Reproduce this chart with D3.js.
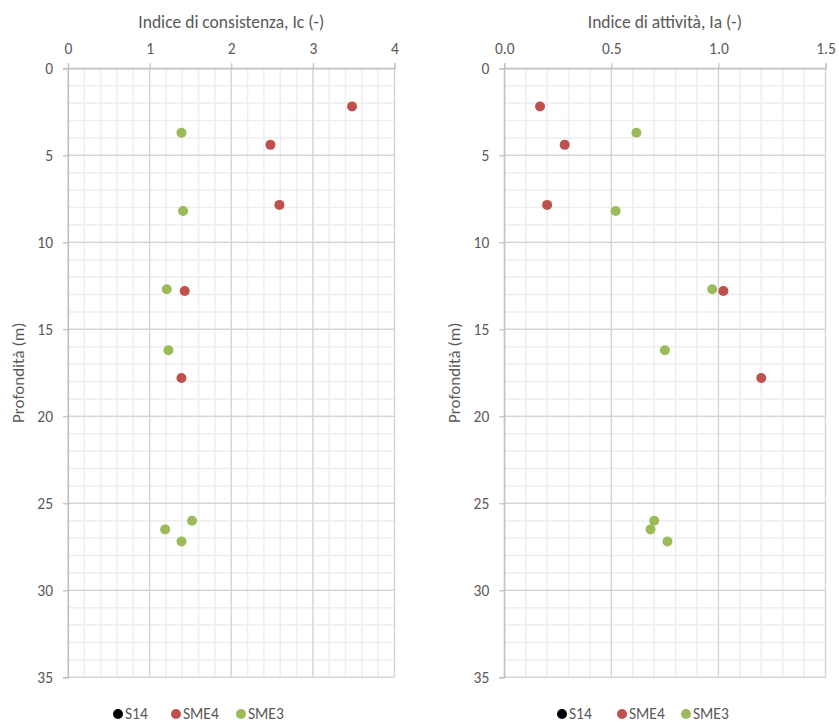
<!DOCTYPE html>
<html>
<head>
<meta charset="utf-8">
<script src="https://cdn.jsdelivr.net/npm/d3@7"></script>
<style>
  html, body { margin: 0; padding: 0; background: #fff; }
  svg { display: block; }
  text { font-family: Carlito, Calibri, Lato, "Open Sans", sans-serif; fill: #595959; }
</style>
</head>
<body>
<svg id="chart" width="839" height="722"></svg>
<script>
// ---- data ----
const seriesNames = ["S14", "SME4", "SME3"];
const seriesColors = ["#000000", "#C0504D", "#9BBB59"];

const depthS14 = [];
const icS14 = [];
const iaS14 = [];

const depthSME4 = [2.2, 4.4, 7.85, 12.8, 17.8];
const icSME4 = [3.48, 2.48, 2.59, 1.43, 1.39];
const iaSME4 = [0.167, 0.282, 0.20, 1.023, 1.20];

const depthSME3 = [3.7, 8.2, 12.7, 16.2, 26.0, 26.5, 27.2];
const icSME3 = [1.39, 1.41, 1.21, 1.23, 1.52, 1.19, 1.39];
const iaSME3 = [0.617, 0.52, 0.971, 0.75, 0.70, 0.683, 0.762];

const depthTicks = [0, 5, 10, 15, 20, 25, 30, 35];
const icTicks = [0, 1, 2, 3, 4];
const iaTicks = [0.0, 0.5, 1.0, 1.5];

const titleIc = "Indice di consistenza, Ic (-)";
const titleIa = "Indice di attività, Ia (-)";
const yTitle = "Profondità (m)";

// ---- drawing ----
const svg = d3.select("#chart");

function panel(cfg) {
  const x = d3.scaleLinear().domain(cfg.xDomain).range([cfg.left, cfg.right]);
  const y = d3.scaleLinear().domain([0, 35]).range([68.3, 677.3]);
  const g = svg.append("g");

  // minor grid
  const xMinor = d3.range(cfg.xDomain[0], cfg.xDomain[1] + 1e-9, cfg.xMinorStep);
  const yMinor = d3.range(0, 35 + 1e-9, 1);
  g.append("g").selectAll("line").data(xMinor).join("line")
    .attr("x1", d => x(d)).attr("x2", d => x(d))
    .attr("y1", y(0)).attr("y2", y(35))
    .attr("stroke", "#EEEEEE").attr("stroke-width", 1.5);
  g.append("g").selectAll("line").data(yMinor).join("line")
    .attr("x1", x(cfg.xDomain[0])).attr("x2", x(cfg.xDomain[1]))
    .attr("y1", d => y(d)).attr("y2", d => y(d))
    .attr("stroke", "#EEEEEE").attr("stroke-width", 1.5);

  // major grid
  g.append("g").selectAll("line").data(cfg.xTicks).join("line")
    .attr("x1", d => x(d)).attr("x2", d => x(d))
    .attr("y1", y(0)).attr("y2", y(35))
    .attr("stroke", "#D4D4D4").attr("stroke-width", 1.2);
  g.append("g").selectAll("line").data(depthTicks).join("line")
    .attr("x1", x(cfg.xDomain[0])).attr("x2", x(cfg.xDomain[1]))
    .attr("y1", d => y(d)).attr("y2", d => y(d))
    .attr("stroke", "#D4D4D4").attr("stroke-width", 1.2);

  // axes
  const xAxis = d3.axisTop(x).tickValues(cfg.xTicks).tickFormat(cfg.xFormat)
    .tickSize(5).tickPadding(9);
  const gx = g.append("g").attr("transform", `translate(0,${y(0)})`).call(xAxis);
  const yAxis = d3.axisLeft(y).tickValues(depthTicks).tickFormat(d3.format("d"))
    .tickSize(5).tickPadding(10);
  const gy = g.append("g").attr("transform", `translate(${x(cfg.xDomain[0])},0)`).call(yAxis);
  [gx, gy].forEach(a => {
    a.select(".domain").attr("stroke", "#BFBFBF").attr("stroke-width", 1.2);
    a.selectAll(".tick line").attr("stroke", "#BFBFBF").attr("stroke-width", 1.2);
    a.selectAll(".tick text").attr("fill", "#595959")
      .style("font-family", "Carlito, Calibri, Lato, sans-serif").style("font-size", "15.5px");
  });

  // titles
  g.append("text").attr("x", (cfg.left + cfg.right) / 2).attr("y", 28)
    .attr("text-anchor", "middle").style("font-size", "17.5px").text(cfg.title);
  g.append("text")
    .attr("transform", `translate(${cfg.yTitleX},${(y(0) + y(35)) / 2}) rotate(-90)`)
    .attr("text-anchor", "middle").style("font-size", "17px").text(yTitle);

  // points
  cfg.series.forEach((s, i) => {
    const pts = s.depth.map((d, k) => ({ d, v: s.vals[k] }));
    g.append("g").selectAll("circle").data(pts).join("circle")
      .attr("cx", p => x(p.v)).attr("cy", p => y(p.d)).attr("r", 5)
      .attr("fill", seriesColors[i]);
  });

  // legend
  const lg = g.append("g").attr("transform", `translate(${cfg.legendX},714)`);
  seriesNames.forEach((n, i) => {
    lg.append("circle").attr("cx", cfg.legendOffsets[i]).attr("cy", 0).attr("r", 5)
      .attr("fill", seriesColors[i]);
    lg.append("text").attr("x", cfg.legendOffsets[i] + 7).attr("y", 0).attr("dy", "0.35em")
      .style("font-size", "15.5px").text(n);
  });
}

panel({
  xDomain: [0, 4], left: 68, right: 394.5, xTicks: icTicks, xMinorStep: 0.2,
  xFormat: d3.format("d"), title: titleIc, yTitleX: 24, legendX: 118,
  legendOffsets: [0, 58, 123],
  series: [
    { depth: depthS14, vals: icS14 },
    { depth: depthSME4, vals: icSME4 },
    { depth: depthSME3, vals: icSME3 }
  ]
});

panel({
  xDomain: [0, 1.5], left: 504.3, right: 825.5, xTicks: iaTicks, xMinorStep: 0.1,
  xFormat: d3.format(".1f"), title: titleIa, yTitleX: 460, legendX: 562,
  legendOffsets: [0, 60, 124],
  series: [
    { depth: depthS14, vals: iaS14 },
    { depth: depthSME4, vals: iaSME4 },
    { depth: depthSME3, vals: iaSME3 }
  ]
});
</script>
</body>
</html>
